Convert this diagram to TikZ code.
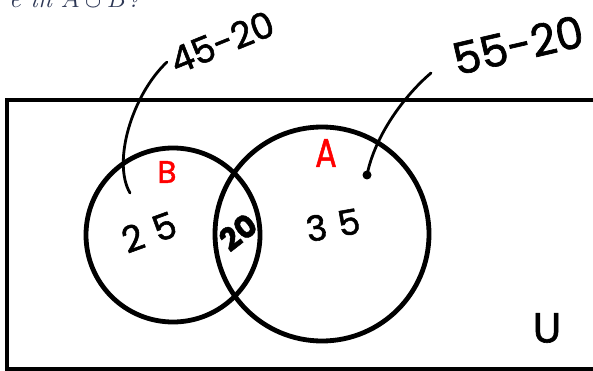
\documentclass[tikz,border=0pt]{standalone}
\usepackage{fontspec}
\newfontfamily\handfont[FakeBold=1.5]{Poppins}
\definecolor{setred}{RGB}{255,0,0}
\definecolor{qtext}{RGB}{45,55,85}
\tikzset{
  setline/.style={line width=4.8pt},
  hand/.style={inner sep=0pt},
  pen/.style={line width=2.8pt, line cap=round},
}
\begin{document}
\begin{tikzpicture}[x=1pt,y=-1pt]
    \clip (0,0) rectangle (593,371);
    % question line, cut off at the top
    \node[anchor=base east, inner sep=0pt, text=qtext, font=\fontsize{26}{30}\selectfont\itshape] (question) at (140,8) {e in $A\cup B$?};

    \draw[setline] (7,100) rectangle (620,369);
    \node[setline, draw, circle, minimum size=174pt, inner sep=0pt] (setB) at (173,235) {};
    \node[setline, draw, circle, minimum size=214pt, inner sep=0pt] (setA) at (322,234) {};

    \node[hand, text=setred, font={\handfont\fontsize{31}{34}\selectfont}] (nameB) at (167,172) {B};
    \node[hand, text=setred, xscale=0.8, font={\handfont\fontsize{40}{44}\selectfont}] (nameA) at (326,153) {A};
    \node[hand, rotate=20, font={\handfont\fontsize{36}{40}\selectfont}] (onlyB) at (149,232) {2\,\,5};
    \node[hand, rotate=38, font={\handfont\bfseries\fontsize{31}{34}\selectfont}] (both) at (238,232) {20};
    \node[hand, rotate=10, font={\handfont\fontsize{35}{38}\selectfont}] (onlyA) at (333,225) {3\,\,5};
    \node[hand, font={\handfont\fontsize{42}{46}\selectfont}] (univ) at (547,328) {U};

    \node[hand, rotate=22, font={\handfont\fontsize{36}{40}\selectfont}] (calcB) at (222,42) {45-20};
    \node[hand, rotate=13, font={\handfont\fontsize{44}{48}\selectfont}] (calcA) at (518,45) {55-20};

    \coordinate (startB) at (167,62);
    \coordinate (endB) at (130,193);
    \coordinate (startA) at (431,73);
    \coordinate (endA) at (367,175);
    \draw[pen] (startB) .. controls (132,95) and (112,162) .. (endB);
    \draw[pen] (startA) .. controls (405,95) and (375,135) .. (endA);
    \fill (endA) circle (4.5);
\end{tikzpicture}
\end{document}
